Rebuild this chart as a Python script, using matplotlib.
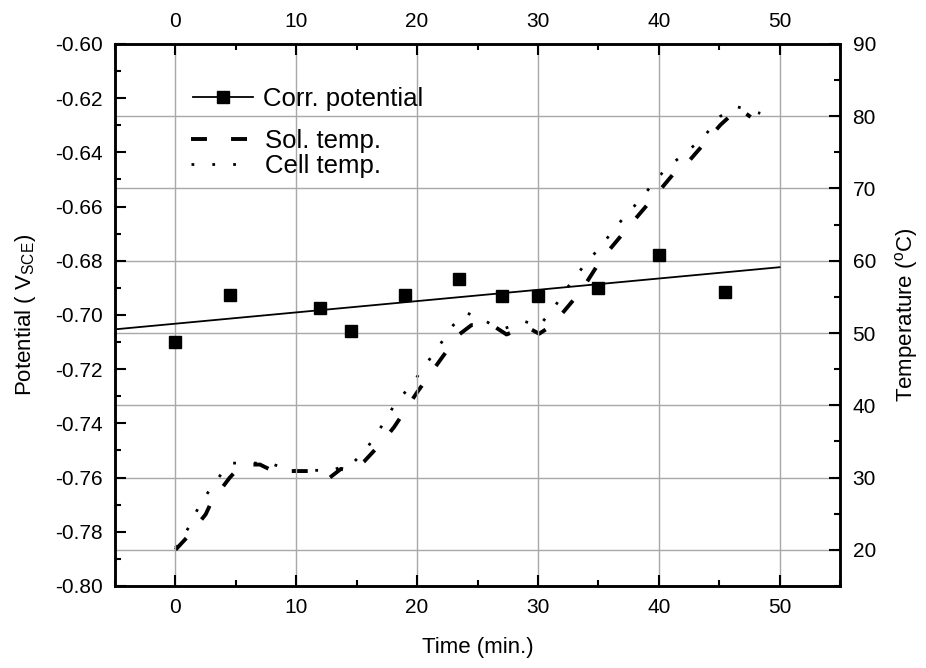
import matplotlib
matplotlib.use('Agg')
import matplotlib.pyplot as plt
from matplotlib.lines import Line2D
import numpy as np

plt.rcParams['font.family'] = ['Liberation Sans', 'DejaVu Sans']
plt.rcParams['mathtext.fontset'] = 'custom'
plt.rcParams['mathtext.rm'] = 'Liberation Sans'

# corrosion potential (V_SCE) vs time (min.)
pot_time = [0, 4.5, 12, 14.5, 19, 23.5, 27, 30, 35, 40, 45.5]
pot_value = [-0.710, -0.6925, -0.6975, -0.706, -0.6926, -0.6868,
             -0.693, -0.693, -0.690, -0.678, -0.6914]

# solution temperature (deg C)
sol_time = [0, 1.0, 2.5, 3.0, 4.5, 5.5, 7.0, 8.2, 9.5, 11.3, 12.7, 13.7,
            14.6, 15.6, 17.1, 18.1, 20.0, 22.1, 23.4, 24.5, 26.3, 27.4,
            29.0, 30.1, 31.2, 33.6, 35.2, 37.6, 40.1, 41.6, 42.6, 45.1,
            46.6, 47.6]
sol_temp = [20.0, 21.8, 24.9, 26.7, 30.0, 31.8, 31.8, 30.8, 30.9, 30.9,
            29.9, 31.2, 30.9, 32.2, 34.9, 37.0, 41.8, 46.7, 49.7, 51.1,
            51.0, 49.8, 50.9, 49.9, 51.1, 55.9, 60.1, 64.9, 69.8, 72.8,
            74.0, 78.8, 81.1, 79.9]

# cell temperature (deg C)
cell_time = [0, 1.1, 2.0, 3.2, 4.5, 6.1, 7.8, 9.5, 13.0, 14.8, 15.9, 17.1,
             18.1, 19.6, 22.1, 23.0, 24.1, 25.7, 27.0, 28.9, 30.1, 31.2,
             32.4, 33.7, 35.2, 36.6, 38.1, 39.6, 40.6, 42.2, 43.7, 45.1,
             46.5, 48.4]
cell_temp = [20.3, 23.1, 26.2, 29.2, 32.0, 32.0, 32.0, 31.0, 31.0, 32.2,
             34.2, 37.2, 40.0, 43.0, 48.9, 51.1, 52.8, 51.6, 50.5, 51.6,
             51.0, 53.2, 56.2, 59.1, 62.0, 65.0, 67.8, 70.8, 72.8, 74.9,
             77.1, 80.0, 81.3, 80.4]

SOL_LS = (0, (4.1, 6.2))
CELL_LS = (0, (1.0, 6.5))

fig = plt.figure(figsize=(9.26, 6.68), dpi=100)
ax = fig.add_axes([0.1242, 0.1228, 0.7830, 0.8114])
ax2 = ax.twinx()
ax.set_zorder(ax2.get_zorder() + 1)
ax.patch.set_visible(False)

# temperatures
ax2.plot(sol_time, sol_temp, color='black', lw=2.8, linestyle=SOL_LS,
         dash_capstyle='butt')
ax2.plot(cell_time, cell_temp, color='black', lw=2.0, linestyle=CELL_LS,
         dash_capstyle='butt')
ax2.set_ylim(15, 90)
ax2.set_yticks(np.arange(20, 91, 10))
ax2.set_yticks(np.arange(15, 91, 5), minor=True)
ax2.grid(axis='y', which='major', color='#a8a8a8', lw=1.0)
ax2.set_ylabel('Temperature ($^\\mathregular{o}$C)', fontsize=16, labelpad=12)

# potential + linear fit
ax.plot(pot_time, pot_value, 's', color='black', ms=8)
slope, icpt = np.polyfit(pot_time, pot_value, 1)
fit_x = np.array([-5, 50])
ax.plot(fit_x, icpt + slope * fit_x, color='black', lw=1.3)
ax.set_xlim(-5, 55)
ax.set_ylim(-0.80, -0.60)
ax.set_xticks(np.arange(0, 51, 10))
ax.set_xticks(np.arange(-5, 56, 5), minor=True)
ax.set_yticks(np.arange(-0.80, -0.599, 0.02))
ax.set_yticks(np.arange(-0.80, -0.599, 0.01), minor=True)
ax.yaxis.set_major_formatter(matplotlib.ticker.FormatStrFormatter('%.2f'))
ax.grid(axis='x', which='major', color='#a8a8a8', lw=1.0)
ax.set_xlabel('Time (min.)', fontsize=16, labelpad=14)
ax.set_ylabel('Potential ( V$_\\mathregular{SCE}$)', fontsize=16, labelpad=12)

for a in (ax, ax2):
    a.tick_params(which='both', direction='in', width=1.5, labelsize=15, pad=9)
    a.tick_params(which='major', length=8)
    a.tick_params(which='minor', length=4.5)
    for s in a.spines.values():
        s.set_linewidth(1.8)
ax.tick_params(axis='x', which='both', top=True, labeltop=True)
ax.tick_params(axis='y', which='both', right=False)
ax2.tick_params(axis='y', which='both', left=False)

h1 = [Line2D([], [], color='black', marker='s', ms=8, lw=1.3)]
leg1 = ax.legend(h1, ['Corr. potential'], loc='upper left',
                 bbox_to_anchor=(0.094, 0.94), frameon=False, fontsize=18.5,
                 handlelength=2.3, handletextpad=0.4, borderaxespad=0)
ax.add_artist(leg1)
h2 = [Line2D([], [], color='black', lw=2.8, linestyle=SOL_LS),
      Line2D([], [], color='black', lw=2.0, linestyle=CELL_LS)]
ax.legend(h2, ['Sol. temp.', 'Cell temp.'], loc='upper left',
          bbox_to_anchor=(0.09, 0.862), frameon=False, fontsize=18.5,
          handlelength=2.3, handletextpad=0.6, labelspacing=0.02,
          borderaxespad=0)

fig.savefig('out.png', dpi=100)
